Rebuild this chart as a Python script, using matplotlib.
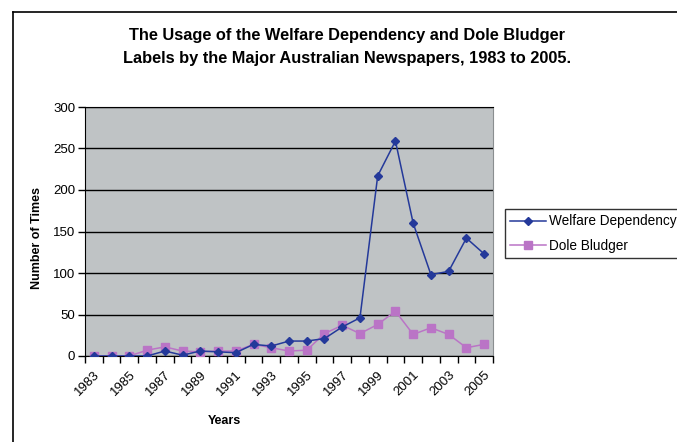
import matplotlib.pyplot as plt
import numpy as np
from matplotlib.lines import Line2D

# values
years = list(range(1983, 2006))
welfare_dependency = [0, 0, 0, 0, 6, 1, 6, 5, 4, 14, 12, 18, 18, 21, 35, 46,
                      217, 259, 160, 98, 102, 142, 123]
dole_bludger = [0, 0, 0, 7, 11, 6, 5, 6, 6, 14, 10, 6, 7, 27, 37, 27,
                38, 54, 26, 34, 26, 10, 14]
y_ticks = [0, 50, 100, 150, 200, 250, 300]

plt.rcParams['font.family'] = ['Liberation Sans', 'DejaVu Sans']

fig = plt.figure(figsize=(6.77, 4.42), dpi=100)
ax = fig.add_axes([85 / 677, 1 - 356 / 442, 408 / 677, 249 / 442])
ax.set_facecolor('#BFC3C5')

x = np.arange(len(years))
ax.plot(x, welfare_dependency, color='#24399A', marker='D', markersize=4.5,
        linewidth=1.1, label='Welfare Dependency', zorder=4)
ax.plot(x, dole_bludger, color='#BA74C6', marker='s', markersize=5.2,
        linewidth=1.1, label='Dole Bludger', zorder=3)

ax.set_xlim(-0.5, len(years) - 0.5)
ax.set_ylim(0, 300)
ax.set_yticks(y_ticks)
ax.yaxis.grid(True, color='black', linewidth=1)
ax.set_axisbelow(True)
ax.tick_params(axis='y', length=5, width=1, direction='out', labelsize=9.5, pad=2)

# category labels every other year, tick marks between categories
ax.set_xticks(x[::2])
ax.set_xticklabels([str(y) for y in years[::2]], rotation=45, ha='right',
                   va='top', rotation_mode='anchor', fontsize=9.5)
ax.tick_params(axis='x', which='major', length=0, pad=9)
ax.set_xticks(np.arange(-0.5, len(years)), minor=True)
ax.tick_params(axis='x', which='minor', length=5, width=1, direction='out')

for side in ['left', 'bottom', 'top']:
    ax.spines[side].set_color('black')
ax.spines['right'].set_color('#8A8E90')

fig.text(347 / 677, 1 - 47 / 442,
         'The Usage of the Welfare Dependency and Dole Bludger\n'
         'Labels by the Major Australian Newspapers, 1983 to 2005.',
         ha='center', va='center', fontsize=11.8, fontweight='bold',
         linespacing=1.65)
fig.text(37 / 677, 1 - 238 / 442, 'Number of Times', rotation=90,
         ha='center', va='center', fontsize=9, fontweight='bold')
fig.text(224 / 677, 1 - 421 / 442, 'Years', ha='center', va='center',
         fontsize=9, fontweight='bold')

leg = ax.legend(loc='upper left', bbox_to_anchor=(505 / 677, 1 - 209 / 442),
                bbox_transform=fig.transFigure, frameon=True, fancybox=False,
                fontsize=9.8, handlelength=2.6, borderpad=0.4, labelspacing=0.75,
                handletextpad=0.2, borderaxespad=0)
leg.get_frame().set_edgecolor('black')
leg.get_frame().set_linewidth(1)

# chart area border (top and left edges visible in the crop)
fig.add_artist(Line2D([13 / 677, 1], [1 - 12 / 442, 1 - 12 / 442],
                      color='black', linewidth=1.2))
fig.add_artist(Line2D([13 / 677, 13 / 677], [0, 1 - 12 / 442],
                      color='black', linewidth=1.2))

fig.savefig('out.png', dpi=100)
